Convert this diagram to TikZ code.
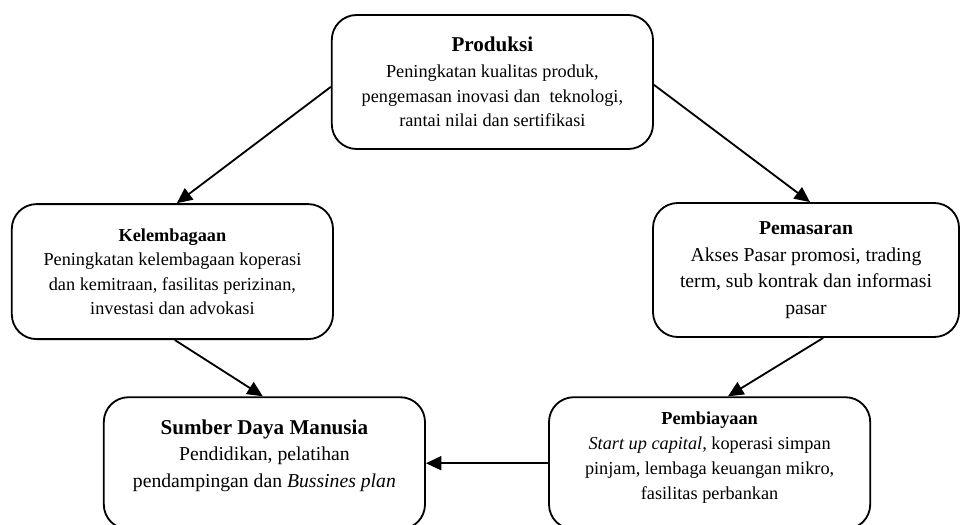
\documentclass[tikz,border=0pt]{standalone}
\usepackage{fontspec}
\setmainfont{Liberation Serif}
\usetikzlibrary{arrows.meta}

\begin{document}
\begin{tikzpicture}[box/.style={draw, rounded corners=0.62cm, line width=1.3pt, align=center, inner sep=0pt}, arr/.style={-{Triangle[length=11pt,width=10pt]}, line width=1.3pt}, line join=round]
	\useasboundingbox (0,0) rectangle (24,-13.1);

	% Kotak atas
	\node[box, minimum width=8.03cm, minimum height=3.35cm, font=\fontsize{13}{17.4}\selectfont] (prod) at (12.31,-2.05) {{\fontsize{15}{18}\selectfont\bfseries Produksi}\\[1pt] Peningkatan kualitas produk,\\ pengemasan inovasi dan\ \ teknologi,\\ rantai nilai dan sertifikasi};

	% Kotak tengah
	\node[box, minimum width=8.03cm, minimum height=3.375cm, font=\fontsize{13}{17.4}\selectfont] (kel) at (4.31,-6.79) {\textbf{Kelembagaan}\\ Peningkatan kelembagaan koperasi\\ dan kemitraan, fasilitas perizinan,\\ investasi dan advokasi};
	\node[box, minimum width=7.65cm, minimum height=3.35cm, font=\fontsize{14}{18.8}\selectfont] (pem) at (20.15,-6.75) {\textbf{Pemasaran}\\ Akses Pasar promosi, trading\\ term, sub kontrak dan informasi\\ pasar};

	% Kotak bawah
	\node[box, minimum width=8.03cm, minimum height=3.3cm] (sdm) at (6.61,-11.58) {};
	\node[align=center, inner sep=0pt, anchor=north, font=\fontsize{14}{18.8}\selectfont] (sdmtxt) at ([yshift=-0.575cm]sdm.north) {{\fontsize{15}{18}\selectfont\bfseries Sumber Daya Manusia}\\ Pendidikan, pelatihan\\ pendampingan dan \textit{Bussines plan}};
	\node[box, minimum width=8.03cm, minimum height=3.3cm] (bia) at (17.74,-11.58) {};
	\node[align=center, inner sep=0pt, anchor=north, font=\fontsize{13}{17.8}\selectfont] (biatxt) at ([yshift=-0.39cm]bia.north) {\textbf{Pembiayaan}\\ \textit{Start up capital,} koperasi simpan\\ pinjam, lembaga keuangan mikro,\\ fasilitas perbankan};

	% Panah
	\draw[arr] ([yshift=-0.12cm]prod.west) -- ([xshift=0.11cm]kel.north);
	\draw[arr] ([yshift=-0.07cm]prod.east) -- ([xshift=0.1cm]pem.north);
	\draw[arr] ([xshift=0.06cm]kel.south) -- ([xshift=-0.04cm]sdm.north);
	\draw[arr] ([xshift=0.43cm]pem.south) -- ([xshift=0.46cm]bia.north);
	\draw[arr] (bia.west) -- (sdm.east);
\end{tikzpicture}
\end{document}
